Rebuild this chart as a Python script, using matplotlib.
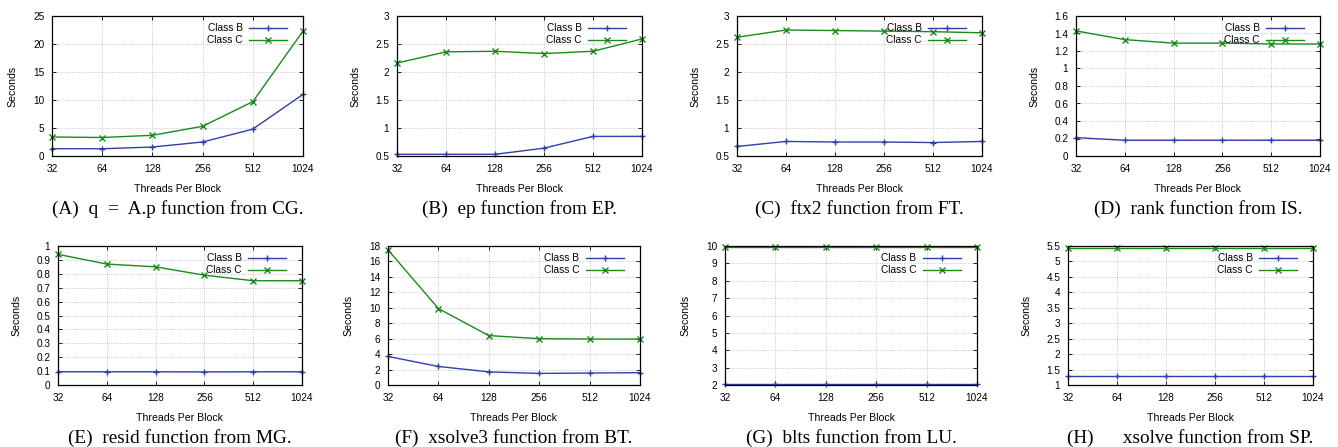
import matplotlib
matplotlib.use('Agg')
import matplotlib.pyplot as plt
from matplotlib.ticker import FixedLocator, NullLocator

plt.rcParams['font.family'] = ['Liberation Sans', 'DejaVu Sans']

threads = [32, 64, 128, 256, 512, 1024]
thread_labels = ['32', '64', '128', '256', '512', '1024']

cg_b = [1.3, 1.3, 1.6, 2.5, 4.8, 11.0]
cg_c = [3.4, 3.3, 3.7, 5.3, 9.7, 22.3]
ep_b = [0.53, 0.53, 0.53, 0.64, 0.85, 0.85]
ep_c = [2.16, 2.36, 2.37, 2.33, 2.37, 2.59]
ft_b = [0.67, 0.76, 0.75, 0.75, 0.74, 0.76]
ft_c = [2.62, 2.75, 2.74, 2.73, 2.72, 2.70]
is_b = [0.21, 0.18, 0.18, 0.18, 0.18, 0.18]
is_c = [1.43, 1.33, 1.29, 1.29, 1.28, 1.28]
mg_b = [0.095, 0.095, 0.095, 0.094, 0.095, 0.095]
mg_c = [0.94, 0.87, 0.85, 0.79, 0.75, 0.75]
bt_b = [3.7, 2.4, 1.7, 1.5, 1.55, 1.6]
bt_c = [17.5, 9.9, 6.4, 6.0, 5.95, 5.95]
lu_b = [2.05, 2.05, 2.05, 2.05, 2.05, 2.05]
lu_c = [9.95, 9.95, 9.95, 9.95, 9.95, 9.95]
sp_b = [1.3, 1.3, 1.3, 1.3, 1.3, 1.3]
sp_c = [5.45, 5.45, 5.45, 5.45, 5.45, 5.45]

captions = [
    '(A)  q  =  A.p function from CG.',
    '(B)  ep function from EP.',
    '(C)  ftx2 function from FT.',
    '(D)  rank function from IS.',
    '(E)  resid function from MG.',
    '(F)  xsolve3 function from BT.',
    '(G)  blts function from LU.',
    '(H)      xsolve function from SP.',
]
yticks = [
    [0, 5, 10, 15, 20, 25],
    [0.5, 1, 1.5, 2, 2.5, 3],
    [0.5, 1, 1.5, 2, 2.5, 3],
    [0, 0.2, 0.4, 0.6, 0.8, 1, 1.2, 1.4, 1.6],
    [0, 0.1, 0.2, 0.3, 0.4, 0.5, 0.6, 0.7, 0.8, 0.9, 1],
    [0, 2, 4, 6, 8, 10, 12, 14, 16, 18],
    [2, 3, 4, 5, 6, 7, 8, 9, 10],
    [1, 1.5, 2, 2.5, 3, 3.5, 4, 4.5, 5, 5.5],
]
series = [(cg_b, cg_c), (ep_b, ep_c), (ft_b, ft_c), (is_b, is_c),
          (mg_b, mg_c), (bt_b, bt_c), (lu_b, lu_c), (sp_b, sp_c)]

# axes boxes in pixels: left, right, top, bottom
W, H = 1338, 447
boxes = [
    (52, 303, 16, 156), (397, 642, 16, 156), (737, 982, 16, 156), (1076, 1320, 16, 156),
    (58, 302, 246, 385), (388, 640, 246, 385), (725, 977, 246, 385), (1068, 1313, 246, 385),
]

BLUE = '#3040a8'
GREEN = '#1a8a1a'

fig = plt.figure(figsize=(W / 100, H / 100), dpi=100)

for i, (b_vals, c_vals) in enumerate(series):
    l, r, t, b = boxes[i]
    ax = fig.add_axes([l / W, 1 - b / H, (r - l) / W, (b - t) / H])
    ax.set_xscale('log', base=2)
    ax.plot(threads, b_vals, color=BLUE, marker='+', markersize=5, lw=1, label='Class B', clip_on=False)
    ax.plot(threads, c_vals, color=GREEN, marker='x', markersize=4.5, lw=1, label='Class C', clip_on=False)
    ax.set_xlim(32, 1024)
    ax.set_ylim(yticks[i][0], yticks[i][-1])
    ax.xaxis.set_major_locator(FixedLocator(threads))
    ax.xaxis.set_minor_locator(NullLocator())
    ax.set_xticklabels(thread_labels)
    ax.set_yticks(yticks[i])
    ax.set_yticklabels(['%g' % v for v in yticks[i]])
    ax.tick_params(direction='in', length=3, width=0.6, top=True, right=True,
                   labelsize=7.2, pad=5.5)
    ax.tick_params(axis='x', pad=6)
    ax.grid(True, color='#b8b8b8', linestyle=':', linewidth=0.6)
    for s in ax.spines.values():
        s.set_linewidth(0.9)
    ax.set_xlabel('Threads Per Block', fontsize=7.6, labelpad=7)
    ax.set_ylabel('Seconds', fontsize=7.6, labelpad=11)
    ax.legend(loc='upper right', bbox_to_anchor=(0.965, 1.0), frameon=False,
              markerfirst=False, fontsize=7.3, handlelength=3.8, handletextpad=0.6,
              labelspacing=0.2, borderaxespad=0.3)
    fig.text((l + r) / 2 / W, 1 - (b + 53) / H, captions[i], ha='center', va='center',
             fontsize=13.9, family=['Liberation Serif', 'DejaVu Serif'])

fig.savefig('out.png', dpi=100)
